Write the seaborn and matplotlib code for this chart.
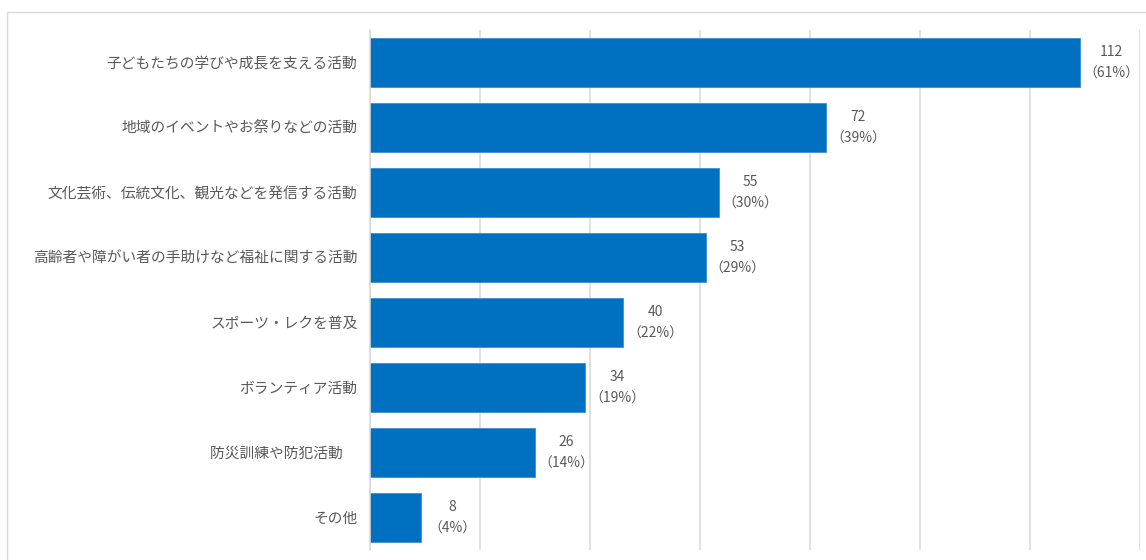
import matplotlib
matplotlib.use("Agg")
import matplotlib.pyplot as plt
import seaborn as sns
import pandas as pd
import numpy as np
from matplotlib.patches import Rectangle

# data
categories = [
    "子どもたちの学びや成長を支える活動",
    "地域のイベントやお祭りなどの活動",
    "文化芸術、伝統文化、観光などを発信する活動",
    "高齢者や障がい者の手助けなど福祉に関する活動",
    "スポーツ・レクを普及",
    "ボランティア活動",
    "防災訓練や防犯活動　",
    "その他",
]
counts = [112, 72, 55, 53, 40, 34, 26, 8]
percents = [61, 39, 30, 29, 22, 19, 14, 4]

df = pd.DataFrame({"category": categories, "count": counts})

sns.set_style("white")
plt.rcParams["font.family"] = ["Noto Sans CJK JP", "DejaVu Sans"]

fig = plt.figure(figsize=(11.46, 5.6), dpi=100)
ax = fig.add_axes([370 / 1146, 1 - 550 / 560, (1140 - 370) / 1146, 520 / 560])

sns.barplot(data=df, x="count", y="category", orient="h", color="#0070C0",
            width=0.75, saturation=1, edgecolor="#3d8fd6", linewidth=0.6, ax=ax)

xmax = 121.5
ax.set_xlim(0, xmax)
ax.set_xticks(np.linspace(0, xmax, 8))
ax.xaxis.grid(True, color="#d9d9d9", linewidth=1.1)
ax.set_axisbelow(True)
ax.tick_params(axis="x", labelbottom=False, length=0)
ax.tick_params(axis="y", length=0, pad=9, labelsize=10.6, labelcolor="#595959")
ax.set_xlabel("")
ax.set_ylabel("")
for s in ["top", "right", "bottom"]:
    ax.spines[s].set_visible(False)
ax.spines["left"].set_color("#d9d9d9")
ax.spines["left"].set_linewidth(1.1)

# value labels
for i, (c, p) in enumerate(zip(counts, percents)):
    ax.text(c + 5, i, f"{c}\n（{p}%）", ha="center", va="center",
            fontsize=10, color="#595959", linespacing=1.7)

# light frame around the chart area
fig.patches.append(Rectangle((7 / 1146, -0.05), 1.2, 1 - 12 / 560 + 0.05,
                             transform=fig.transFigure, fill=False,
                             edgecolor="#d9d9d9", linewidth=1.0))

fig.savefig("out.png", dpi=100)
